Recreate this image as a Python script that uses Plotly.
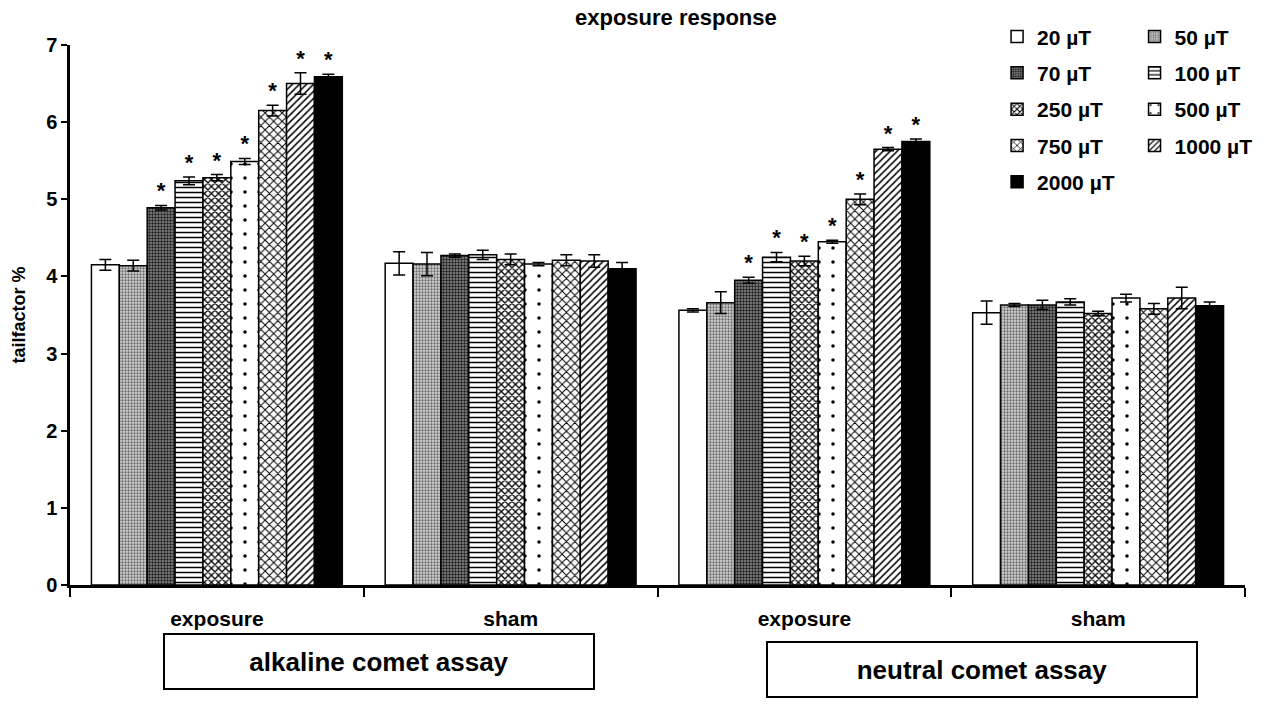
import plotly.graph_objects as go

groups = ["exposure", "sham", "exposure", "sham"]
doses = ["20 µT", "50 µT", "70 µT", "100 µT", "250 µT", "500 µT", "750 µT", "1000 µT", "2000 µT"]

# values per dose: [alkaline exposure, alkaline sham, neutral exposure, neutral sham]
values = {
    "20 µT":   [4.15, 4.17, 3.56, 3.53],
    "50 µT":   [4.14, 4.16, 3.66, 3.63],
    "70 µT":   [4.89, 4.27, 3.95, 3.63],
    "100 µT":  [5.24, 4.28, 4.25, 3.67],
    "250 µT":  [5.28, 4.22, 4.20, 3.52],
    "500 µT":  [5.49, 4.16, 4.45, 3.72],
    "750 µT":  [6.15, 4.21, 5.00, 3.58],
    "1000 µT": [6.50, 4.20, 5.65, 3.72],
    "2000 µT": [6.59, 4.10, 5.75, 3.62],
}
errors = {
    "20 µT":   [0.07, 0.15, 0.02, 0.15],
    "50 µT":   [0.07, 0.15, 0.14, 0.02],
    "70 µT":   [0.03, 0.02, 0.04, 0.06],
    "100 µT":  [0.05, 0.06, 0.06, 0.04],
    "250 µT":  [0.04, 0.07, 0.06, 0.03],
    "500 µT":  [0.04, 0.02, 0.02, 0.05],
    "750 µT":  [0.07, 0.07, 0.07, 0.07],
    "1000 µT": [0.14, 0.08, 0.02, 0.14],
    "2000 µT": [0.03, 0.08, 0.03, 0.05],
}
# significance markers (*) per dose and group
significant = {
    "20 µT":   [False, False, False, False],
    "50 µT":   [False, False, False, False],
    "70 µT":   [True, False, True, False],
    "100 µT":  [True, False, True, False],
    "250 µT":  [True, False, True, False],
    "500 µT":  [True, False, True, False],
    "750 µT":  [True, False, True, False],
    "1000 µT": [True, False, True, False],
    "2000 µT": [True, False, True, False],
}

styles = {
    "20 µT":   dict(shape="", bgcolor="white", fgcolor="black", size=6, solidity=0.3),
    "50 µT":   dict(shape=".", bgcolor="#d4d4d4", fgcolor="#6a6a6a", size=3, solidity=0.45),
    "70 µT":   dict(shape=".", bgcolor="#8c8c8c", fgcolor="#1e1e1e", size=3, solidity=0.5),
    "100 µT":  dict(shape="-", bgcolor="white", fgcolor="black", size=5, solidity=0.3),
    "250 µT":  dict(shape="x", bgcolor="white", fgcolor="black", size=5, solidity=0.45),
    "500 µT":  dict(shape=".", bgcolor="white", fgcolor="black", size=14, solidity=0.05),
    "750 µT":  dict(shape="x", bgcolor="white", fgcolor="black", size=6, solidity=0.3),
    "1000 µT": dict(shape="/", bgcolor="white", fgcolor="black", size=5, solidity=0.3),
    "2000 µT": dict(shape="", bgcolor="black", fgcolor="black", size=6, solidity=0.3),
}

FONT = "Liberation Sans, Arial, sans-serif"
x_pos = list(range(len(groups)))
bargap = 0.146

fig = go.Figure()
n = len(doses)
bw = (1 - bargap) / n
for i, d in enumerate(doses):
    st = styles[d]
    fig.add_trace(go.Bar(
        x=x_pos, y=values[d], name=d,
        marker=dict(color=st["bgcolor"], line=dict(color="black", width=1.5),
                    pattern=dict(shape=st["shape"], bgcolor=st["bgcolor"], fgcolor=st["fgcolor"],
                                 size=st["size"], solidity=st["solidity"], fillmode="replace")),
        error_y=dict(type="data", array=errors[d], color="black", thickness=1.5, width=6),
        legend="legend" if i % 2 == 0 else "legend2",
        legendgroup=d,
    ))

# stars
for i, d in enumerate(doses):
    off = -(1 - bargap) / 2 + (i + 0.5) * bw
    xs, ys = [], []
    for g in range(len(groups)):
        if significant[d][g]:
            xs.append(x_pos[g] + off)
            ys.append(values[d][g] + errors[d][g] + 0.02)
    if xs:
        fig.add_trace(go.Scatter(x=xs, y=ys, mode="text", text=["<b>*</b>"] * len(xs),
                                 textposition="top center", showlegend=False,
                                 textfont=dict(family=FONT, size=22, color="black"),
                                 hoverinfo="skip"))

legend_font = dict(family=FONT, size=21, color="black", weight="bold")
fig.update_layout(
    width=1265, height=717,
    margin=dict(l=70, r=20, t=45, b=132, autoexpand=False),
    paper_bgcolor="white", plot_bgcolor="white",
    barmode="group", bargap=bargap, bargroupgap=0,
    font=dict(family=FONT, size=16, color="black"),
    legend=dict(x=0.789, y=1.053, xanchor="left", yanchor="top", traceorder="grouped",
                tracegroupgap=6, font=legend_font, bgcolor="rgba(0,0,0,0)", itemwidth=30),
    legend2=dict(x=0.906, y=1.053, xanchor="left", yanchor="top", traceorder="grouped",
                 tracegroupgap=6, font=legend_font, bgcolor="rgba(0,0,0,0)", itemwidth=30),
    showlegend=True,
)
fig.update_xaxes(
    range=[-0.5, 3.5], tickvals=x_pos, ticktext=groups, ticks="", ticklabelstandoff=13,
    tickfont=dict(family=FONT, size=21, weight="bold"),
    showline=True, linecolor="black", linewidth=2.5, showgrid=False, zeroline=False,
    minor=dict(tick0=-0.5, dtick=1, ticks="outside", ticklen=9, tickwidth=2, tickcolor="black"),
)
fig.update_yaxes(
    range=[0, 7], dtick=1, ticks="outside", ticklen=6, tickwidth=2, tickcolor="black",
    tickfont=dict(family=FONT, size=20, weight="bold"),
    showline=True, linecolor="black", linewidth=2.5, showgrid=False, zeroline=False,
    title=dict(text="tailfactor %", font=dict(family=FONT, size=18, weight="bold"), standoff=16),
)

fig.add_annotation(text="<b>exposure response</b>", xref="paper", yref="paper",
                   x=0.5155, y=1.05, xanchor="center", yanchor="middle", showarrow=False,
                   font=dict(family=FONT, size=22))
fig.add_annotation(text="<b>alkaline comet assay</b>", xref="paper", yref="paper",
                   x=0.263, y=-0.1417, xanchor="center", yanchor="middle", showarrow=False,
                   width=426, height=51, borderpad=1,
                   bordercolor="black", borderwidth=2, font=dict(family=FONT, size=26))
fig.add_annotation(text="<b>neutral comet assay</b>", xref="paper", yref="paper",
                   x=0.7765, y=-0.1565, xanchor="center", yanchor="middle", showarrow=False,
                   width=426, height=51, borderpad=1,
                   bordercolor="black", borderwidth=2, font=dict(family=FONT, size=26))

fig.write_html("out.html")
